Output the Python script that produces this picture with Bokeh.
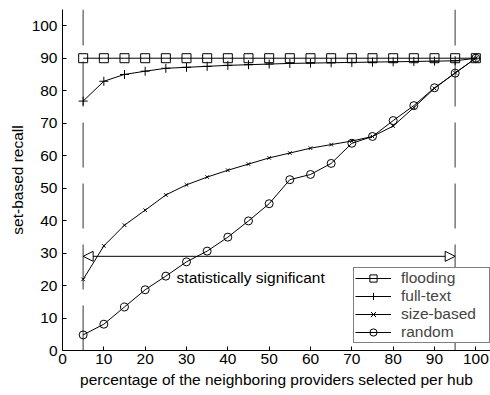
from bokeh.plotting import figure
from bokeh.models import Range1d, FixedTicker, Legend, Arrow, NormalHead, Label, ColumnDataSource
from bokeh.embed import file_html
from bokeh.resources import INLINE

x = [5, 10, 15, 20, 25, 30, 35, 40, 45, 50, 55, 60, 65, 70, 75, 80, 85, 90, 95, 100]
flooding = [90] * 20
full_text = [76.8, 82.9, 85.0, 86.0, 86.9, 87.2, 87.5, 87.8, 88.0, 88.2,
             88.4, 88.5, 88.6, 88.7, 88.8, 88.9, 89.0, 89.1, 89.2, 90.0]
size_based = [21.9, 32.2, 38.6, 43.2, 47.9, 51.0, 53.4, 55.5, 57.4, 59.3,
              60.8, 62.3, 63.4, 64.5, 65.9, 69.1, 74.8, 80.7, 85.5, 90.0]
random_ = [4.8, 8.1, 13.4, 18.7, 22.9, 27.3, 30.6, 34.9, 39.9, 45.2,
           52.6, 54.2, 57.6, 63.8, 65.9, 70.8, 75.4, 80.9, 85.4, 90.0]

x_ticks = [0, 10, 20, 30, 40, 50, 60, 70, 80, 90, 100]
y_ticks = [0, 10, 20, 30, 40, 50, 60, 70, 80, 90, 100]
bounds_x = [5, 95]
arrow_y = 29
note_text = "statistically significant"
note_pos = (27.6, 22.6)

FONT = "Liberation Sans"
FS = "15.5px"

p = figure(width=490, height=395, output_backend="svg", toolbar_location=None,
           x_range=Range1d(0, 103.55), y_range=Range1d(0, 105),
           min_border_left=62, min_border_top=9, min_border_right=0, min_border_bottom=45)
p.outline_line_color = None
p.xgrid.visible = False
p.ygrid.visible = False
p.background_fill_color = "white"
p.border_fill_color = "white"

for ax in (p.xaxis[0], p.yaxis[0]):
    ax.major_tick_in = 4
    ax.major_tick_out = 0
    ax.minor_tick_in = 0
    ax.minor_tick_out = 0
    ax.axis_line_color = "black"
    ax.major_tick_line_color = "black"
    ax.major_label_text_font = FONT
    ax.major_label_text_font_size = FS
    ax.major_label_text_color = "black"
    ax.axis_label_text_font = FONT
    ax.axis_label_text_font_size = FS
    ax.axis_label_text_font_style = "normal"
    ax.axis_label_text_color = "black"
p.xaxis.ticker = FixedTicker(ticks=x_ticks)
p.yaxis.ticker = FixedTicker(ticks=y_ticks)
p.xaxis.axis_label = "percentage of the neighboring providers selected per hub"
p.yaxis.axis_label = "set-based recall"
p.xaxis.major_label_standoff = 3
p.yaxis.major_label_standoff = 5
p.xaxis.axis_label_standoff = 4
p.yaxis.axis_label_standoff = 3

# dashed vertical bounds
src_b = ColumnDataSource(dict(x0=bounds_x, x1=bounds_x, y0=[0, 0], y1=[105, 105]))
p.segment(x0="x0", y0="y0", x1="x1", y1="y1", source=src_b,
          line_color="#808080", line_width=1.6, line_dash="45 16")

series = [
    ("flooding", flooding, "square", 9),
    ("full-text", full_text, "cross", 9),
    ("size-based", size_based, "x", 5),
    ("random", random_, "circle", 8),
]
items = []
for name, ys, marker, sz in series:
    r1 = p.line(x, ys, line_color="black", line_width=1)
    r2 = p.scatter(x, ys, marker=marker, size=sz, line_color="black",
                   fill_color=None, line_width=1)
    items.append((name, [r1, r2]))

# arrow
p.add_layout(Arrow(x_start=bounds_x[0], y_start=arrow_y, x_end=bounds_x[1], y_end=arrow_y,
                   line_color="black", line_width=1,
                   start=NormalHead(size=10, fill_color="white", line_color="black", line_width=1),
                   end=NormalHead(size=10, fill_color="white", line_color="black", line_width=1)))
p.add_layout(Label(x=note_pos[0], y=note_pos[1], text=note_text, text_font=FONT,
                   text_font_size=FS, text_baseline="middle", text_color="black"))

legend = Legend(items=items, location=(291, 7), margin=0, padding=1, spacing=0,
                glyph_width=36, glyph_height=18, label_height=18, label_standoff=10,
                label_width=87, label_text_font=FONT, label_text_font_size=FS,
                border_line_color="black", border_line_width=1,
                background_fill_color="white", background_fill_alpha=1.0)
p.add_layout(legend)

open("out.html", "w").write(file_html(p, INLINE))
